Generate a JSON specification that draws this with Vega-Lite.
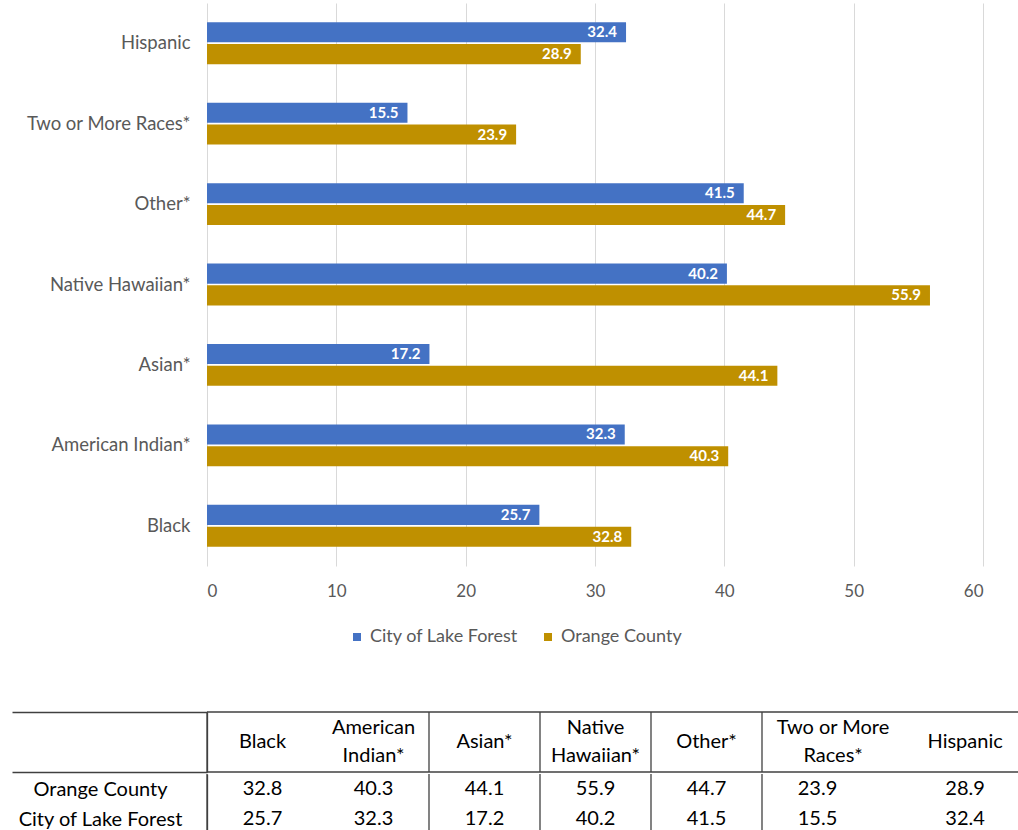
{
  "$schema": "https://vega.github.io/schema/vega-lite/v6.json",
  "padding": {"left": 11, "top": 3, "right": 0, "bottom": 0},
  "config": {"font": "Lato", "view": {"stroke": null}},
  "data": {"values": [
    {"race": "Hispanic", "hdr": "Hispanic", "area": "City of Lake Forest", "value": 32.4},
    {"race": "Hispanic", "hdr": "Hispanic", "area": "Orange County", "value": 28.9},
    {"race": "Two or More Races*", "hdr": "Two or More\nRaces*", "area": "City of Lake Forest", "value": 15.5},
    {"race": "Two or More Races*", "hdr": "Two or More\nRaces*", "area": "Orange County", "value": 23.9},
    {"race": "Other*", "hdr": "Other*", "area": "City of Lake Forest", "value": 41.5},
    {"race": "Other*", "hdr": "Other*", "area": "Orange County", "value": 44.7},
    {"race": "Native Hawaiian*", "hdr": "Native\nHawaiian*", "area": "City of Lake Forest", "value": 40.2},
    {"race": "Native Hawaiian*", "hdr": "Native\nHawaiian*", "area": "Orange County", "value": 55.9},
    {"race": "Asian*", "hdr": "Asian*", "area": "City of Lake Forest", "value": 17.2},
    {"race": "Asian*", "hdr": "Asian*", "area": "Orange County", "value": 44.1},
    {"race": "American Indian*", "hdr": "American\nIndian*", "area": "City of Lake Forest", "value": 32.3},
    {"race": "American Indian*", "hdr": "American\nIndian*", "area": "Orange County", "value": 40.3},
    {"race": "Black", "hdr": "Black", "area": "City of Lake Forest", "value": 25.7},
    {"race": "Black", "hdr": "Black", "area": "Orange County", "value": 32.8}
  ]},
  "spacing": 65,
  "resolve": {"scale": {"x": "independent", "y": "independent"}, "legend": {"color": "independent"}},
  "vconcat": [
    {
      "width": 776,
      "height": 563,
      "encoding": {
        "y": {"field": "race", "type": "nominal",
              "sort": ["Hispanic", "Two or More Races*", "Other*", "Native Hawaiian*", "Asian*", "American Indian*", "Black"],
              "scale": {"paddingInner": 0.48, "paddingOuter": 0.24},
              "axis": {"title": null, "domain": false, "ticks": false, "labelFontSize": 18.5, "labelColor": "#595959", "labelPadding": 17}},
        "yOffset": {"field": "area", "type": "nominal", "sort": ["City of Lake Forest", "Orange County"],
                    "scale": {"paddingInner": 0.08, "paddingOuter": 0}},
        "x": {"field": "value", "type": "quantitative",
              "scale": {"domain": [0, 60], "nice": false},
              "axis": {"title": null, "values": [0, 10, 20, 30, 40, 50, 60], "domain": false, "ticks": false,
                       "grid": true, "gridColor": "#d9d9d9", "labelFontSize": 17, "labelColor": "#595959", "labelPadding": 17}}
      },
      "layer": [
        {
          "mark": {"type": "bar"},
          "encoding": {
            "color": {"field": "area", "type": "nominal",
                      "scale": {"domain": ["City of Lake Forest", "Orange County"], "range": ["#4472C4", "#BF9000"]},
                      "legend": {"title": null, "orient": "none", "legendX": 141, "legendY": 625, "direction": "horizontal",
                                 "symbolType": "square", "symbolSize": 64, "labelFontSize": 18, "labelColor": "#595959",
                                 "columnPadding": 20, "labelOffset": 4}}
          }
        },
        {
          "mark": {"type": "text", "align": "right", "dx": -9, "color": "white", "fontWeight": "bold", "fontSize": 15},
          "encoding": {"text": {"field": "value", "type": "quantitative", "format": ".1f"}}
        }
      ]
    },
    {
      "spacing": 0,
      "resolve": {"scale": {"x": "independent", "y": "independent"}},
      "vconcat": [
        {
          "width": 811,
          "height": 60,
          "transform": [{"filter": "datum.area == 'Orange County'"}],
          "layer": [
            {
              "transform": [{"filter": "indexof(['Black','Asian*','Native Hawaiian*','Other*','Two or More Races*'], datum.race) >= 0"}],
              "mark": {"type": "rule", "color": "#404040", "strokeWidth": 1.3},
              "encoding": {
                "x": {"field": "race", "type": "nominal", "bandPosition": 0,
                      "sort": ["Black", "American Indian*", "Asian*", "Native Hawaiian*", "Other*", "Two or More Races*", "Hispanic"],
                      "scale": {"paddingInner": 0, "paddingOuter": 0, "range": [0, 777]}, "axis": null}
              }
            },
            {
              "transform": [{"aggregate": [{"op": "count", "as": "n"}]}],
              "mark": {"type": "rule", "color": "#404040", "strokeWidth": 1.3},
              "encoding": {
                "y": {"datum": 0, "type": "quantitative", "scale": {"domain": [0, 1], "nice": false, "zero": false},
                      "axis": {"title": null, "values": [0, 1], "labels": false, "tickSize": 195, "tickColor": "#404040", "tickWidth": 1.3,
                               "grid": false, "domain": true, "domainColor": "#404040", "domainWidth": 1.3}}
              }
            },
            {
              "transform": [{"aggregate": [{"op": "count", "as": "n"}]}],
              "mark": {"type": "rule", "color": "#404040", "strokeWidth": 1.3},
              "encoding": {
                "y": {"datum": 1, "type": "quantitative", "scale": {"domain": [0, 1], "nice": false, "zero": false},
                      "axis": {"title": null, "values": [0, 1], "labels": false, "tickSize": 195, "tickColor": "#404040", "tickWidth": 1.3,
                               "grid": false, "domain": true, "domainColor": "#404040", "domainWidth": 1.3}}
              }
            },
            {
              "transform": [{"filter": "indexof(datum.hdr, '\\n') < 0 && datum.race != 'Hispanic'"}],
              "mark": {"type": "text", "fontSize": 20, "color": "black"},
              "encoding": {
                "x": {"field": "race", "type": "nominal",
                      "sort": ["Black", "American Indian*", "Asian*", "Native Hawaiian*", "Other*", "Two or More Races*", "Hispanic"],
                      "scale": {"paddingInner": 0, "paddingOuter": 0, "range": [0, 777]}, "axis": null},
                "y": {"datum": 0.5, "type": "quantitative", "scale": {"domain": [0, 1], "nice": false, "zero": false},
                      "axis": {"title": null, "values": [0, 1], "labels": false, "tickSize": 195, "tickColor": "#404040", "tickWidth": 1.3,
                               "grid": false, "domain": true, "domainColor": "#404040", "domainWidth": 1.3}},
                "text": {"field": "hdr"}
              }
            },
            {
              "transform": [{"filter": "datum.race == 'Hispanic'"}],
              "mark": {"type": "text", "fontSize": 20, "color": "black"},
              "encoding": {
                "x": {"field": "race", "type": "nominal", "bandPosition": 0.83,
                      "sort": ["Black", "American Indian*", "Asian*", "Native Hawaiian*", "Other*", "Two or More Races*", "Hispanic"],
                      "scale": {"paddingInner": 0, "paddingOuter": 0, "range": [0, 777]}, "axis": null},
                "y": {"datum": 0.5, "type": "quantitative", "scale": {"domain": [0, 1], "nice": false, "zero": false},
                      "axis": {"title": null, "values": [0, 1], "labels": false, "tickSize": 195, "tickColor": "#404040", "tickWidth": 1.3,
                               "grid": false, "domain": true, "domainColor": "#404040", "domainWidth": 1.3}},
                "text": {"field": "hdr"}
              }
            },
            {
              "transform": [{"filter": "indexof(datum.hdr, '\\n') >= 0 && datum.race != 'Two or More Races*'"}],
              "mark": {"type": "text", "lineBreak": "\n", "fontSize": 20, "lineHeight": 28, "dy": -14, "color": "black"},
              "encoding": {
                "x": {"field": "race", "type": "nominal",
                      "sort": ["Black", "American Indian*", "Asian*", "Native Hawaiian*", "Other*", "Two or More Races*", "Hispanic"],
                      "scale": {"paddingInner": 0, "paddingOuter": 0, "range": [0, 777]}, "axis": null},
                "y": {"datum": 0.5, "type": "quantitative", "scale": {"domain": [0, 1], "nice": false, "zero": false},
                      "axis": {"title": null, "values": [0, 1], "labels": false, "tickSize": 195, "tickColor": "#404040", "tickWidth": 1.3,
                               "grid": false, "domain": true, "domainColor": "#404040", "domainWidth": 1.3}},
                "text": {"field": "hdr"}
              }
            },
            {
              "transform": [{"filter": "datum.race == 'Two or More Races*'"}],
              "mark": {"type": "text", "lineBreak": "\n", "fontSize": 20, "lineHeight": 28, "dy": -14, "color": "black"},
              "encoding": {
                "x": {"field": "race", "type": "nominal", "bandPosition": 0.64,
                      "sort": ["Black", "American Indian*", "Asian*", "Native Hawaiian*", "Other*", "Two or More Races*", "Hispanic"],
                      "scale": {"paddingInner": 0, "paddingOuter": 0, "range": [0, 777]}, "axis": null},
                "y": {"datum": 0.5, "type": "quantitative", "scale": {"domain": [0, 1], "nice": false, "zero": false},
                      "axis": {"title": null, "values": [0, 1], "labels": false, "tickSize": 195, "tickColor": "#404040", "tickWidth": 1.3,
                               "grid": false, "domain": true, "domainColor": "#404040", "domainWidth": 1.3}},
                "text": {"field": "hdr"}
              }
            }
          ]
        },
        {
          "width": 811,
          "height": 60,
          "layer": [
            {
              "transform": [{"filter": "datum.area == 'Orange County' && indexof(['Black','Asian*','Native Hawaiian*','Other*','Two or More Races*'], datum.race) >= 0"}],
              "mark": {"type": "rule", "color": "#404040", "strokeWidth": 1.3},
              "encoding": {
                "x": {"field": "race", "type": "nominal", "bandPosition": 0,
                      "sort": ["Black", "American Indian*", "Asian*", "Native Hawaiian*", "Other*", "Two or More Races*", "Hispanic"],
                      "scale": {"paddingInner": 0, "paddingOuter": 0, "range": [0, 777]}, "axis": null}
              }
            },
            {
              "transform": [{"filter": "datum.race != 'Hispanic'"}],
              "mark": {"type": "text", "fontSize": 20, "color": "black"},
              "encoding": {
                "x": {"field": "race", "type": "nominal",
                      "sort": ["Black", "American Indian*", "Asian*", "Native Hawaiian*", "Other*", "Two or More Races*", "Hispanic"],
                      "scale": {"paddingInner": 0, "paddingOuter": 0, "range": [0, 777]}, "axis": null},
                "y": {"field": "area", "type": "nominal", "sort": ["Orange County", "City of Lake Forest"],
                      "scale": {"paddingInner": 0, "paddingOuter": 0},
                      "axis": {"title": null, "ticks": false, "domain": true, "domainColor": "#404040", "domainWidth": 1.3,
                               "labelAlign": "center", "labelPadding": 107, "labelFontSize": 20, "labelColor": "black"}},
                "text": {"field": "value", "type": "quantitative", "format": ".1f"}
              }
            },
            {
              "transform": [{"filter": "datum.race == 'Hispanic'"}],
              "mark": {"type": "text", "fontSize": 20, "color": "black"},
              "encoding": {
                "x": {"field": "race", "type": "nominal", "bandPosition": 0.83,
                      "sort": ["Black", "American Indian*", "Asian*", "Native Hawaiian*", "Other*", "Two or More Races*", "Hispanic"],
                      "scale": {"paddingInner": 0, "paddingOuter": 0, "range": [0, 777]}, "axis": null},
                "y": {"field": "area", "type": "nominal", "sort": ["Orange County", "City of Lake Forest"],
                      "scale": {"paddingInner": 0, "paddingOuter": 0},
                      "axis": {"title": null, "ticks": false, "domain": true, "domainColor": "#404040", "domainWidth": 1.3,
                               "labelAlign": "center", "labelPadding": 107, "labelFontSize": 20, "labelColor": "black"}},
                "text": {"field": "value", "type": "quantitative", "format": ".1f"}
              }
            }
          ]
        }
      ]
    }
  ]
}
